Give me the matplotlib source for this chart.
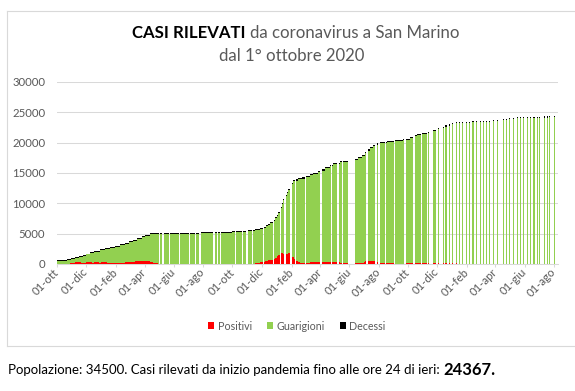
import numpy as np
import pandas as pd
import matplotlib
matplotlib.use("Agg")
import matplotlib.pyplot as plt
import matplotlib.dates as mdates
import matplotlib.transforms as mtransforms
from matplotlib.lines import Line2D
from matplotlib.patches import Patch

plt.rcParams['font.family'] = ['Lato', 'DejaVu Sans']

nan = np.nan
INIZIO = "2020-10-01"

# ---- dati giornalieri (giorni dal 1° ottobre 2020; nan = giorni senza dati) ----
giorno = [0, 20, 27, 30, 37, 38, 45, 49, 54, 61,
          68, 72, 77, 87, 89, 91, 99, 105, 110, 120,
          130, 141, 149, 158, 162, 167, 176, 183, 193, 199,
          210, 212, 215, 219, 222, 233, 236, 253, 256, 274,
          277, 287, 290, 296, 299, 325, 328, 332, 335, 339,
          342, 363, 370, 373, 384, 387, 394, 397, 398, 405,
          408, 411, 422, 428, 431, 432, 434, 439, 444, 449,
          452, 453, 457, 460, 463, 466, 467, 470, 473, 476,
          478, 481, 484, 485, 488, 491, 493, 494, 497, 502,
          505, 509, 515, 518, 526, 533, 543, 548, 551, 557,
          568, 569, 572, 575, 583, 586, 589, 592, 595, 606,
          620, 627, 634, 638, 641, 643, 646, 651, 657, 662,
          665, 668, 671, 672, 682, 685, 686, 700, 701, 704,
          720, 722, 725, 734, 741, 744, 748, 757, 760, 769,
          772, 774]

totale = [690, 840, 840, 1000, 1000, 1170, 1330, 1330, 1500, 1720,
          1940, 1940, 2170, 2170, 2440, 2440, 2610, 2610, 2780, 3000,
          3220, 3440, 3720, 4000, 4000, 4330, 4610, 4830, 5050, 5060,
          5060, nan, 5065, nan, 5070, nan, 5075, nan, 5080, nan,
          5085, nan, 5090, nan, 5220, nan, 5330, nan, 5335, nan,
          5340, 5500, nan, 5505, nan, 5510, nan, 5515, 5556, nan,
          5560, 5720, 5890, nan, 6110, 6110, 6390, 6670, 6940, nan,
          7280, 7670, 8060, 8610, nan, 9440, 10060, 10720, nan, 11350,
          11900, 12400, 12960, nan, 13400, 13780, 13780, nan, 13940, 14110,
          14110, 14270, nan, 14490, 14770, 15040, 15370, nan, 15590, 15980,
          16360, nan, 16400, 16690, nan, 16700, 16960, nan, 16970, nan,
          17350, 17620, 17950, 17950, 18500, nan, 18890, 19270, 19600, nan,
          19870, nan, 19870, 20090, nan, 20100, 20260, 20260, nan, 20480,
          20640, nan, 20640, 20970, nan, 21300, 21470, nan, 21630, nan,
          21800, nan]

positivi = [60, 70, 165, 165, 330, 330, 330, 165, 165, 330,
            330, 165, 330, 165, 165, 330, 330, 165, 165, 165,
            165, 330, 330, 330, 500, 500, 500, 500, 330, 165,
            40, nan, 30, nan, 25, nan, 20, nan, 20, nan,
            20, nan, 20, nan, 20, nan, 25, nan, 25, nan,
            25, 30, nan, 30, nan, 40, nan, 50, 60, nan,
            80, 170, 280, nan, 280, 440, 440, 610, 670, nan,
            830, 1000, 1280, 1500, nan, 1760, 1760, 1590, nan, 1700,
            1700, 1870, 1430, nan, 1210, 1210, 880, nan, 550, 330,
            220, 220, nan, 220, 330, 330, 330, nan, 330, 330,
            275, nan, 275, 275, nan, 275, 220, nan, 220, nan,
            220, 220, 220, 330, 490, nan, 490, 490, 490, nan,
            330, nan, 220, 220, nan, 220, 220, 80, nan, 80,
            80, nan, 165, 165, nan, 165, 165, nan, 165, nan,
            165, nan]

decessi = [150, 150, 150, 150, 150, 150, 150, 150, 150, 150,
           155, 155, 155, 155, 155, 155, 155, 155, 155, 155,
           160, 160, 160, 160, 160, 160, 160, 160, 160, 160,
           165, nan, 165, nan, 165, nan, 165, nan, 165, nan,
           165, nan, 165, nan, 165, nan, 165, nan, 165, nan,
           165, 165, nan, 165, nan, 165, nan, 165, 165, nan,
           165, 165, 165, nan, 170, 170, 170, 170, 170, nan,
           170, 170, 170, 170, nan, 175, 175, 175, nan, 175,
           175, 175, 175, nan, 180, 180, 180, nan, 180, 180,
           180, 180, nan, 180, 180, 185, 185, nan, 185, 185,
           185, nan, 185, 185, nan, 185, 185, nan, 185, nan,
           185, 185, 185, 185, 185, nan, 185, 185, 185, nan,
           185, nan, 185, 185, nan, 185, 185, 185, nan, 185,
           185, nan, 185, 185, nan, 185, 185, nan, 185, nan,
           185, nan]

# ---- dati settimanali (da fine novembre 2022) ----
giorno_sett = [783, 787, 793, 802, 808, 815, 822, 829, 836, 843,
               850, 857, 864, 866, 872, 879, 886, 893, 899, 907,
               915, 927, 934, 941, 948, 957, 963, 970, 977, 984,
               991, 998, 1002, 1012, 1019, 1024, 1033]
totale_sett = [22120, 22150, 22400, 22620, 22840, 23000, 23220, 23390, 23450, 23450,
               23460, 23470, 23550, 23580, 23600, 23600, 23610, 23620, 23640, 23720,
               23750, 23880, 23900, 24050, 24100, 24270, 24280, 24285, 24290, 24295,
               24300, 24305, 24310, 24315, 24320, 24350, 24367]
positivi_sett = [165, 165, 165, 165, 165, 165, 165, 165, 30, 30,
                 20, 20, 20, 20, 20, 20, 20, 20, 20, 20,
                 20, 20, 20, 20, 20, 20, 20, 20, 20, 20,
                 20, 20, 20, 20, 20, 20, 20]
decessi_sett = [190, 190, 190, 190, 190, 190, 190, 190, 190, 190,
                190, 190, 190, 190, 190, 190, 190, 190, 190, 190,
                190, 190, 190, 190, 190, 190, 190, 190, 190, 190,
                190, 190, 190, 190, 190, 190, 190]

tick_date = ["2020-10-01", "2020-12-01", "2021-02-01", "2021-04-01", "2021-06-01", "2021-08-01",
             "2021-10-01", "2021-12-01", "2022-02-01", "2022-04-01", "2022-06-01", "2022-08-01",
             "2022-10-01", "2022-12-01", "2023-02-01", "2023-04-01", "2023-06-01", "2023-08-01"]
tick_label = ["01-ott", "01-dic", "01-feb", "01-apr", "01-giu", "01-ago",
              "01-ott", "01-dic", "01-feb", "01-apr", "01-giu", "01-ago",
              "01-ott", "01-dic", "01-feb", "01-apr", "01-giu", "01-ago"]

serie = ["Positivi", "Guarigioni", "Decessi"]
colori = ["#FF0000", "#92D050", "#000000"]
popolazione = 34500
casi_totali = 24367

assert len(giorno) == len(totale) == len(positivi) == len(decessi)
assert len(giorno_sett) == len(totale_sett) == len(positivi_sett) == len(decessi_sett)

# ---- figure ----
W, H = 575, 391
fig = plt.figure(figsize=(W / 100, H / 100), dpi=100)
fig.patch.set_facecolor("white")

def fx(x):
    return x / W

def fy(y):
    return 1 - y / H

ax = fig.add_axes([fx(57), fy(264), fx(558) - fx(57), fy(82) - fy(264)])

base = pd.Timestamp(INIZIO)
g = np.array(giorno, dtype=float)
xd = mdates.date2num(base + pd.to_timedelta(g, unit="D"))
wd = np.diff(xd)
xd = xd[:-1]
tot = np.array(totale, dtype=float)[:-1]
pos = np.array(positivi, dtype=float)[:-1]
dec = np.array(decessi, dtype=float)[:-1]
gua = tot - pos - dec
ok = ~np.isnan(tot)

gs = np.array(giorno_sett, dtype=float)
xs = mdates.date2num(base + pd.to_timedelta(gs, unit="D"))
tots = np.array(totale_sett, dtype=float)
poss = np.array(positivi_sett, dtype=float)
decs = np.array(decessi_sett, dtype=float)
guas = tots - poss - decs

kw = dict(align="edge", linewidth=0, antialiased=True)
for x, w, p, gg, d in [(xd[ok], wd[ok], pos[ok], gua[ok], dec[ok]),
                        (xs, np.full(len(xs), 2.2), poss, guas, decs)]:
    for vals, bot, col in [(p, 0, colori[0]), (gg, p, colori[1]), (d, p + gg, colori[2])]:
        bars = ax.bar(x, vals, width=w, bottom=bot, color=col, **kw)
        for b in bars:
            b.set_snap(True)

x0 = mdates.date2num(base)
ax.set_xlim(x0, x0 + 1042)
ax.set_ylim(0, 30000)
ax.set_yticks(np.arange(0, 30001, 5000))
ax.yaxis.grid(True, color="#d9d9d9", linewidth=0.75)
ax.set_axisbelow(True)
for s in ["top", "right", "left"]:
    ax.spines[s].set_visible(False)
ax.spines["bottom"].set_color("#d9d9d9")
ax.spines["bottom"].set_linewidth(0.75)
ax.spines["bottom"].set_zorder(0.5)

ax.set_xticks(mdates.date2num(pd.to_datetime(tick_date)))
ax.set_xticklabels(tick_label, rotation=45, ha="right", va="center",
                   rotation_mode="anchor", fontsize=8.2, color="#595959")
shift = mtransforms.ScaledTranslation(2 / 100, 0, fig.dpi_scale_trans)
for lab in ax.get_xticklabels():
    lab.set_transform(lab.get_transform() + shift)
ax.tick_params(axis="x", length=2, width=0.75, color="#d9d9d9", pad=2.5)
ax.tick_params(axis="y", length=0, pad=8.5, labelsize=8.2, labelcolor="#595959")

# chart border (right edge lies outside the image)
brd = dict(color="#d9d9d9", linewidth=0.8, transform=fig.transFigure)
fig.add_artist(Line2D([fx(7.3), fx(7.3)], [fy(10.7), fy(345.7)], **brd))
fig.add_artist(Line2D([fx(7.3), 1.0], [fy(10.7), fy(10.7)], **brd))
fig.add_artist(Line2D([fx(7.3), 1.0], [fy(345.7), fy(345.7)], **brd))

# title
fig.canvas.draw()
r = fig.canvas.get_renderer()
t1 = fig.text(fx(132.3), fy(33), "CASI RILEVATI", fontsize=12.1, fontweight="bold",
              color="black", ha="left", va="center")
bb = t1.get_window_extent(renderer=r)
fig.text(bb.x1 / W + fx(4), fy(33), "da coronavirus a San Marino", fontsize=12.1,
         color="#595959", ha="left", va="center")
fig.text(fx(292), fy(56), "dal 1° ottobre 2020", fontsize=12.1, color="#595959",
         ha="center", va="center")

# legend
handles = [Patch(facecolor=c, edgecolor="none") for c in colori]
fig.legend(handles, serie, loc="center", bbox_to_anchor=(fx(297), fy(326)), ncol=3,
           frameon=False, fontsize=7.7, labelcolor="#595959", handlelength=0.55,
           handleheight=0.55, handletextpad=0.35, columnspacing=1.4)

# footer
f1 = fig.text(fx(8.3), fy(370), f"Popolazione: {popolazione}. Casi rilevati da inizio pandemia fino alle ore 24 di ieri: ",
              fontsize=9.5, color="black", ha="left", va="center")
bb = f1.get_window_extent(renderer=r)
fig.text(bb.x1 / W, fy(370), f"{casi_totali}.", fontsize=12, fontweight="bold",
         color="black", ha="left", va="center")

fig.savefig("out.png", dpi=100)
